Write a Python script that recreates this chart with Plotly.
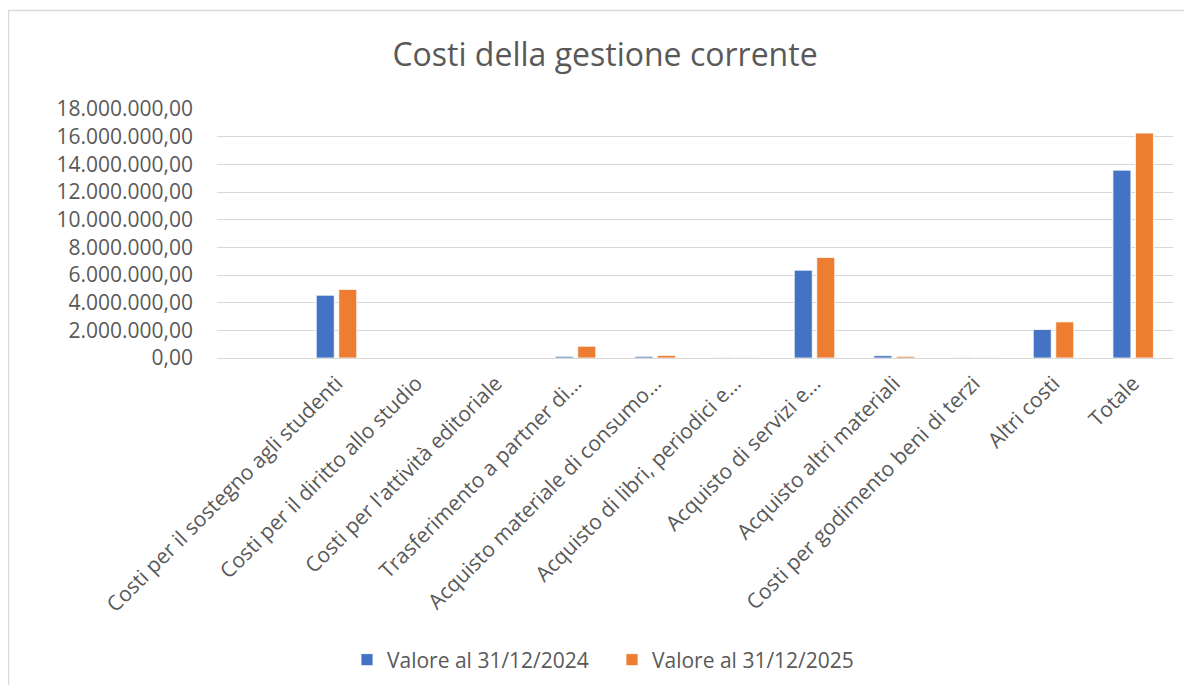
import plotly.graph_objects as go

# Categorie (etichette come mostrate, troncate come nel grafico originale)
categorie = [
    "Costi per il sostegno agli studenti",
    "Costi per il diritto allo studio",
    "Costi per l'attività editoriale",
    "Trasferimento a partner di…",
    "Acquisto materiale di consumo…",
    "Acquisto di libri, periodici e…",
    "Acquisto di servizi e…",
    "Acquisto altri materiali",
    "Costi per godimento beni di terzi",
    "Altri costi",
    "Totale",
]

valori_2024 = [4540000, 0, 0, 120000, 120000, 40000, 6350000, 170000, 30000, 2060000, 13580000]
valori_2025 = [4960000, 0, 0, 850000, 190000, 40000, 7270000, 120000, 30000, 2610000, 16260000]

# la pagina html ha un margine di 8px attorno alla figura
OFF = 8
W, H = 1192 - 2 * OFF, 693 - 2 * OFF
L, R, T, B = 217 - OFF, W - (1173 - OFF), 109 - OFF, H - (358 - OFF)
plot_w = W - L - R
plot_h = H - T - B

GRIGIO = "#595959"
FONT = "Open Sans"

fig = go.Figure()

fig.add_trace(go.Bar(
    x=categorie,
    y=valori_2024,
    name="Valore al 31/12/2024",
    marker=dict(color="#4472C4", line=dict(color="white", width=0.8)),
))

fig.add_trace(go.Bar(
    x=categorie,
    y=valori_2025,
    name="Valore al 31/12/2025",
    marker=dict(color="#ED7D31", line=dict(color="white", width=0.8)),
))


def px_x(p):
    # p: coordinata pixel della pagina
    return (p - OFF - L) / plot_w


def px_y(p):
    return (H - B - (p - OFF)) / plot_h


# cornice esterna del grafico
fig.add_shape(
    type="rect", xref="paper", yref="paper",
    x0=px_x(8.5), x1=px_x(1210), y0=px_y(10.5), y1=px_y(720),
    line=dict(color="#D9D9D9", width=1.5),
    fillcolor="rgba(0,0,0,0)",
)

fig.update_layout(
    width=W,
    height=H,
    margin=dict(l=L, r=R, t=T, b=B),
    paper_bgcolor="white",
    plot_bgcolor="white",
    separators=",.",
    font=dict(family=FONT, color=GRIGIO, size=21),
    title=dict(
        text="Costi della gestione corrente",
        xref="container", x=(605 - OFF) / W, xanchor="center",
        yref="container", y=1 - (55 - OFF) / H, yanchor="middle",
        font=dict(family=FONT, size=32, color=GRIGIO),
    ),
    bargap=0.435,
    bargroupgap=0.2,
    barmode="group",
    showlegend=True,
    legend=dict(
        orientation="h",
        xref="container", x=(347 - OFF) / W, xanchor="left",
        yref="container", y=1 - (660 - OFF) / H, yanchor="middle",
        font=dict(family=FONT, size=21, color=GRIGIO),
        itemwidth=30,
        entrywidth=220,
    ),
    xaxis=dict(
        type="category",
        range=[-1.5, 10.5],
        tickangle=-45,
        showgrid=False,
        showline=False,
        ticks="",
        ticklabelstandoff=8,
        tickfont=dict(family=FONT, size=21, color=GRIGIO),
    ),
    yaxis=dict(
        range=[0, 18000000],
        dtick=2000000,
        tickformat=",.2f",
        showgrid=True,
        gridcolor="#D9D9D9",
        gridwidth=1,
        zeroline=True,
        zerolinecolor="#D9D9D9",
        zerolinewidth=1,
        showline=False,
        ticks="",
        ticklabelstandoff=23,
        tickfont=dict(family=FONT, size=21, color=GRIGIO),
    ),
)

fig.write_html("out.html")
